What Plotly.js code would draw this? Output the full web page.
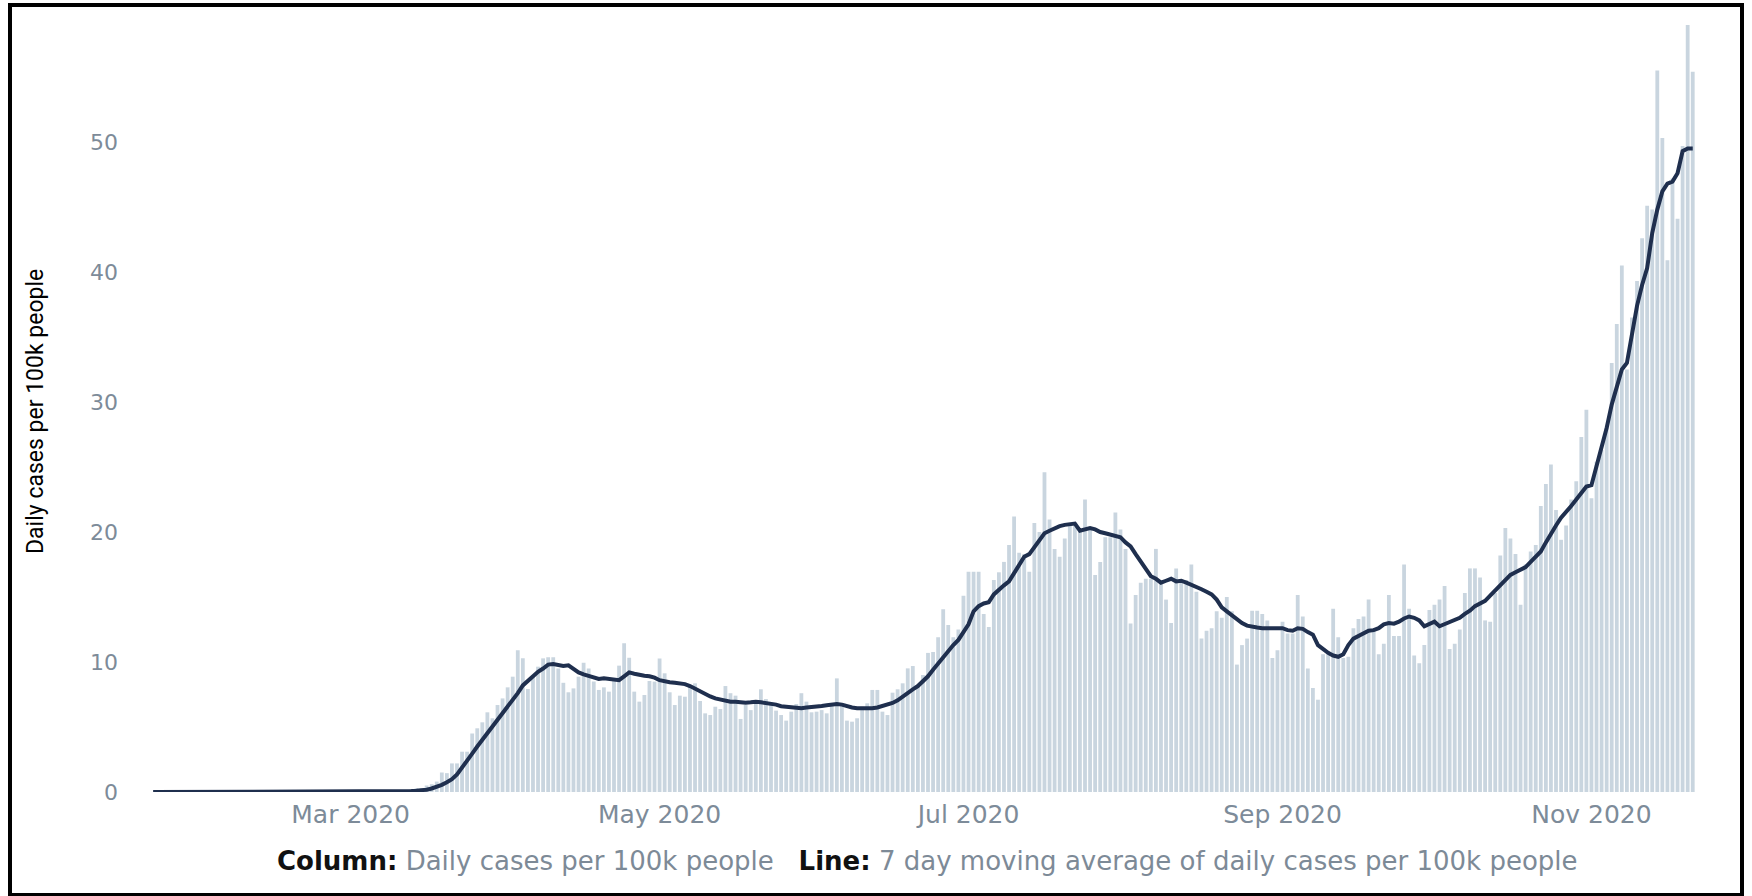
<!DOCTYPE html>
<html>
<head>
<meta charset="utf-8">
<script src="https://cdn.plot.ly/plotly-3.0.1.min.js"></script>
<style>
  html, body { margin: 0; padding: 0; background: #ffffff; }
  #wrap { position: relative; width: 1752px; height: 896px; overflow: hidden; }
  #chart { position: absolute; left: 0; top: 0; width: 1752px; height: 896px; }
  #frame { position: absolute; left: 8px; top: 3px; width: 1736px; height: 894px;
           box-sizing: border-box; border: 4px solid #000; pointer-events: none; }
</style>
</head>
<body>
<div id="wrap">
  <div id="chart"></div>
  <div id="frame"></div>
</div>
<script>
// Daily cases per 100k people (columns), by month; first day of each array given in monthStarts
const monthStarts = ['2020-01-22','2020-02-01','2020-03-01','2020-04-01','2020-05-01','2020-06-01','2020-07-01','2020-08-01','2020-09-01','2020-10-01','2020-11-01'];

const barsJan = [0,0,0,0,0,0,0,0,0,0];
const barsFeb = [0,0,0,0,0,0,0,0,0,0,0,0,0,0,0,0,0,0,0,0,0,0,0,0,0,0,0,0,0];
const barsMar = [0.01,0.01,0.01,0.01,0.02,0.03,0.04,0.03,0.04,0.09,0.12,0.15,0.2,0.29,0.3,0.5,0.6,0.8,1.5,1.45,2.2,2.2,3.1,3.1,4.5,4.9,5.36,6.13,5.67,6.69,7.2];
const barsApr = [8.05,8.87,10.9,10.28,7.92,8.87,9.64,10.28,10.36,10.36,9.5,8.4,7.67,7.97,8.87,9.95,9.5,8.5,7.85,8.05,7.72,8.67,9.72,11.44,10.33,7.72,6.95,7.46,8.54,8.49];
const barsMay = [10.26,9.13,7.67,6.69,7.41,7.33,8.23,8.36,7.0,6.05,5.92,6.56,6.38,8.15,7.6,7.41,5.62,6.69,6.3,6.82,7.9,7.15,6.77,6.26,5.92,5.49,6.18,6.77,7.6,6.95,6.13];
const barsJun = [6.18,6.3,6.05,6.77,8.74,6.82,5.49,5.41,5.67,6.56,6.82,7.85,7.85,6.18,5.92,7.64,7.9,8.36,9.51,9.69,8.15,9.0,10.7,10.77,11.9,14.05,12.85,11.9,12.5,15.1];
const barsJul = [16.95,16.95,16.95,13.7,12.7,16.3,16.9,17.7,19.0,21.2,18.4,18.3,16.95,20.7,20.0,24.6,20.97,18.7,18.1,19.5,20.5,20.5,20.1,22.5,20.3,16.7,17.7,19.6,19.6,21.5,20.2];
const barsAug = [18.7,12.97,15.15,16.1,16.4,16.4,18.7,16.3,14.8,13.0,17.2,16.3,16.3,17.5,15.4,11.8,12.4,12.6,13.9,13.4,15.0,13.9,9.8,11.3,11.8,13.95,13.95,13.7,13.2,10.3,10.9];
const barsSep = [13.1,12.2,12.2,15.15,13.5,9.5,8.0,7.1,10.6,10.6,14.1,11.9,10.3,10.4,12.6,13.3,13.5,14.8,12.6,10.6,11.4,15.15,12.0,12.0,17.5,14.1,10.5,9.9,11.3,14.0];
const barsOct = [14.4,14.8,15.85,11.0,11.4,12.5,15.3,17.2,17.2,16.5,13.2,13.1,15.3,18.2,20.3,19.5,18.3,14.4,17.5,18.5,19.0,22.0,23.7,25.2,21.7,19.4,20.5,22.5,23.9,27.3,29.4];
const barsNov = [22.6,25.4,26.3,28.1,33.0,36.0,40.5,32.5,36.5,39.3,42.6,45.1,44.8,55.5,50.3,40.9,47.2,44.1,49.7,59.0,55.4];

// 7 day moving average of daily cases per 100k people (line), by month
const lineJan = [0,0,0,0,0,0,0,0,0,0];
const lineFeb = [0,0,0,0,0,0,0,0,0,0,0,0,0,0,0,0,0,0,0,0,0,0,0,0,0,0,0,0,0];
const lineMar = [0,0,0,0.01,0.01,0.01,0.02,0.02,0.02,0.03,0.04,0.05,0.07,0.1,0.13,0.18,0.27,0.4,0.55,0.75,0.98,1.35,1.85,2.4,2.95,3.5,4.0,4.55,5.1,5.6,6.05];
const lineApr = [6.5,7.0,7.6,8.2,8.55,8.95,9.25,9.5,9.8,9.85,9.75,9.7,9.75,9.45,9.2,9.05,8.95,8.8,8.7,8.75,8.7,8.65,8.6,8.9,9.2,9.1,9.0,8.95,8.9,8.8];
const lineMay = [8.6,8.5,8.45,8.4,8.38,8.3,8.15,7.95,7.7,7.5,7.35,7.2,7.1,7.0,6.95,6.95,6.9,6.87,6.9,6.95,6.9,6.85,6.8,6.72,6.6,6.55,6.48,6.44,6.45,6.5,6.52];
const lineJun = [6.56,6.62,6.68,6.72,6.77,6.72,6.6,6.5,6.45,6.44,6.44,6.44,6.5,6.6,6.7,6.85,7.05,7.35,7.65,7.9,8.15,8.5,8.9,9.4,9.9,10.4,10.85,11.3,11.7,12.3];
const lineJul = [12.9,13.9,14.3,14.5,14.6,15.2,15.6,15.9,16.2,16.8,17.5,18.1,18.3,18.8,19.3,19.9,20.1,20.3,20.45,20.55,20.6,20.65,20.1,20.2,20.3,20.2,20.0,19.9,19.8,19.77,19.6];
const lineAug = [19.2,18.9,18.3,17.7,17.2,16.6,16.4,16.1,16.25,16.4,16.2,16.25,16.1,15.95,15.8,15.6,15.4,15.2,14.8,14.2,13.9,13.6,13.3,13.0,12.8,12.7,12.65,12.6,12.6,12.55,12.6];
const lineSep = [12.6,12.45,12.4,12.6,12.55,12.3,12.1,11.3,10.95,10.7,10.5,10.4,10.6,11.3,11.8,12.0,12.2,12.4,12.45,12.6,12.9,13.0,12.95,13.1,13.35,13.5,13.4,13.2,12.75,12.9];
const lineOct = [13.1,12.75,12.9,13.1,13.25,13.4,13.7,13.95,14.3,14.5,14.7,15.1,15.5,15.9,16.4,16.7,16.9,17.1,17.3,17.7,18.1,18.5,19.2,19.9,20.5,21.1,21.5,22.0,22.5,23.0,23.5];
const lineNov = [23.6,25.0,26.4,28.0,29.8,31.3,32.5,33.0,35.3,37.4,39.0,40.3,43.0,44.8,46.2,46.8,46.95,47.6,49.3,49.5,49.5];

const barMonths = [barsJan,barsFeb,barsMar,barsApr,barsMay,barsJun,barsJul,barsAug,barsSep,barsOct,barsNov];
const lineMonths = [lineJan,lineFeb,lineMar,lineApr,lineMay,lineJun,lineJul,lineAug,lineSep,lineOct,lineNov];

const yTickValues = [0, 10, 20, 30, 40, 50];
const yTitle = 'Daily cases per 100k people';
const captionText = '<b style="color:#111111">Column:</b> Daily cases per 100k people&nbsp;&nbsp;&nbsp;<b style="color:#111111">Line:</b> 7 day moving average of daily cases per 100k people';

function pad(n){ return (n < 10 ? '0' : '') + n; }
const dates = [], bars = [], line = [];
monthStarts.forEach(function(ms, mi){
  const parts = ms.split('-');
  const m = parseInt(parts[1],10), d0 = parseInt(parts[2],10);
  barMonths[mi].forEach(function(v, i){
    dates.push('2020-' + pad(m) + '-' + pad(d0 + i));
    bars.push(v);
    line.push(lineMonths[mi][i]);
  });
});

const tickColor = '#7d8b99';
const traces = [
  { type: 'bar', x: dates, y: bars, marker: { color: '#c9d5df', line: { width: 0 } },
    hoverinfo: 'skip', showlegend: false },
  { type: 'scatter', mode: 'lines', x: dates, y: line,
    line: { color: '#1f2f4e', width: 4 }, hoverinfo: 'skip', showlegend: false }
];

const L = 143, R = 39, T = 12, B = 104;
const W = 1752 - L - R, H = 896 - T - B;
const layout = {
  width: 1752, height: 896,
  margin: { l: L, r: R, t: T, b: B, pad: 0 },
  paper_bgcolor: '#ffffff', plot_bgcolor: '#ffffff',
  bargap: 0.25,
  showlegend: false,
  xaxis: {
    type: 'date',
    range: ['2020-01-20', '2020-11-25'],
    tick0: '2020-03-01', dtick: 'M2', tickformat: '%b %Y',
    showgrid: false, zeroline: false, showline: false, ticks: '',
    tickfont: { family: 'DejaVu Sans', size: 25, color: tickColor },
    ticklabelstandoff: 5
  },
  yaxis: {
    range: [0, 60],
    tickvals: yTickValues,
    showgrid: false, zeroline: false, showline: false, ticks: '',
    tickfont: { family: 'DejaVu Sans', size: 22, color: tickColor },
    ticklabelstandoff: 24
  },
  annotations: [
    { text: yTitle, xref: 'paper', yref: 'paper', x: (36 - L) / W, y: (792 - 412) / H,
      xanchor: 'center', yanchor: 'middle', textangle: -90, showarrow: false,
      font: { family: 'Roboto', size: 23, color: '#000000' } },
    { text: captionText, xref: 'paper', yref: 'paper', x: (927 - L) / W, y: (792 - 861) / H,
      xanchor: 'center', yanchor: 'middle', showarrow: false,
      font: { family: 'DejaVu Sans', size: 26, color: '#7d8a97' } }
  ]
};

Plotly.newPlot('chart', traces, layout, { displayModeBar: false, staticPlot: true });
</script>
</body>
</html>
